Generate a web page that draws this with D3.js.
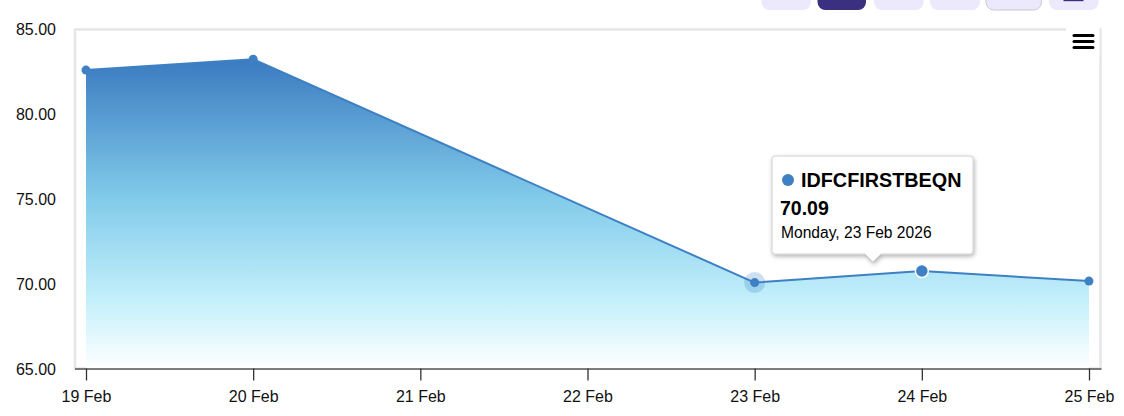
<!DOCTYPE html>
<html>
<head>
<meta charset="utf-8">
<script src="https://cdn.jsdelivr.net/npm/d3@7"></script>
<style>
  html, body { margin: 0; padding: 0; background: #fff; }
  svg { display: block; font-family: Arial, "Liberation Sans", sans-serif; }
</style>
</head>
<body>
<svg id="chart" width="1124" height="416"></svg>
<script>
// ---- data ----
const dates = ["2026-02-19", "2026-02-20", "2026-02-23", "2026-02-24", "2026-02-25"];
const prices = [82.61, 83.25, 70.09, 70.77, 70.18];
const seriesName = "IDFCFIRSTBEQN";
const yTicks = [65, 70, 75, 80, 85];
const xTickDates = ["2026-02-19", "2026-02-20", "2026-02-21", "2026-02-22", "2026-02-23", "2026-02-24", "2026-02-25"];
const tooltipIndex = 2;
const tooltipDateLabel = "Monday, 23 Feb 2026";
const hoverIndex = 3;
const rangeButtons = [
  {x0: 761.5, x1: 811, active: false, bordered: false},
  {x0: 817.5, x1: 866, active: true, bordered: false},
  {x0: 874, x1: 923.5, active: false, bordered: false},
  {x0: 930, x1: 980, active: false, bordered: false},
  {x0: 986, x1: 1041.5, active: false, bordered: true},
  {x0: 1049, x1: 1098.5, active: false, bordered: false, icon: true}
];

const parse = d3.utcParse("%Y-%m-%d");
const data = dates.map((d, i) => ({date: parse(d), value: prices[i]}));

const svg = d3.select("#chart");
const color = "#3d80c3";

const plot = {left: 75, top: 29.5, right: 1100.5, bottom: 368.5};

const x = d3.scaleUtc()
  .domain([parse(xTickDates[0]), parse(xTickDates[xTickDates.length - 1])])
  .range([86, 1089]);
const y = d3.scaleLinear().domain([65, 85]).range([369, 29.5]);

// range buttons at top
rangeButtons.forEach(b => {
  svg.append("rect")
    .attr("x", b.x0).attr("y", -12).attr("width", b.x1 - b.x0).attr("height", 22)
    .attr("rx", 8)
    .attr("fill", b.active ? "#3b2f80" : "#ece9fd")
    .attr("stroke", b.bordered ? "#c9c9cf" : "none")
    .attr("stroke-width", 1);
  if (b.icon) {
    svg.append("rect").attr("x", 1063.5).attr("y", -2).attr("width", 20).attr("height", 3.2)
      .attr("fill", "#3b2f80");
  }
});

// plot border
svg.append("rect")
  .attr("x", plot.left).attr("y", plot.top)
  .attr("width", plot.right - plot.left).attr("height", plot.bottom - plot.top)
  .attr("fill", "#fff").attr("stroke", "#e6e6e6").attr("stroke-width", 2.5);

// gradient
const defs = svg.append("defs");
const grad = defs.append("linearGradient").attr("id", "areaGrad")
  .attr("gradientUnits", "userSpaceOnUse")
  .attr("x1", 0).attr("x2", 0).attr("y1", y(83.25)).attr("y2", y(65));
[[0, "#3a7bc0"], [0.45, "#82cbea"], [0.78, "#c4f0fb"], [1, "#ffffff"]].forEach(s => {
  grad.append("stop").attr("offset", s[0]).attr("stop-color", s[1]);
});

const area = d3.area().x(d => x(d.date)).y0(y(65)).y1(d => y(d.value));
const line = d3.line().x(d => x(d.date)).y(d => y(d.value));

svg.append("path").datum(data).attr("d", area).attr("fill", "url(#areaGrad)");
svg.append("path").datum(data).attr("d", line)
  .attr("fill", "none").attr("stroke", color).attr("stroke-width", 2)
  .attr("stroke-linejoin", "round");

// halo
svg.append("circle")
  .attr("cx", x(data[tooltipIndex].date)).attr("cy", y(data[tooltipIndex].value))
  .attr("r", 10.5).attr("fill", color).attr("fill-opacity", 0.25);

// markers
svg.selectAll("circle.pt").data(data).enter().append("circle")
  .attr("class", "pt")
  .attr("cx", d => x(d.date)).attr("cy", d => y(d.value))
  .attr("r", (d, i) => i === hoverIndex ? 6.5 : 4.5)
  .attr("fill", color)
  .attr("stroke", (d, i) => i === hoverIndex ? "#fff" : "none")
  .attr("stroke-width", 1.5);

// y axis labels
svg.append("g").selectAll("text").data(yTicks).enter().append("text")
  .attr("x", 56).attr("y", d => y(d)).attr("dy", "0.35em")
  .attr("text-anchor", "end").attr("font-size", 16).attr("fill", "#111")
  .text(d3.format(".2f"));

// x axis
const xAxis = d3.axisBottom(x)
  .tickValues(xTickDates.map(parse))
  .tickFormat(d3.utcFormat("%-d %b"))
  .tickSize(12).tickPadding(10);
const gx = svg.append("g").attr("transform", `translate(0,${plot.bottom})`).call(xAxis);
gx.select(".domain").attr("d", `M${plot.left},0.5H${plot.right + 1}`)
  .attr("stroke", "#555").attr("stroke-width", 1.5);
gx.selectAll(".tick line").attr("stroke", "#333").attr("stroke-width", 1.3);
gx.selectAll(".tick text").attr("font-size", 16).attr("fill", "#111")
  .attr("font-family", "Arial, 'Liberation Sans', sans-serif");

// menu icon
svg.append("rect").attr("x", 1066).attr("y", 27).attr("width", 33.5).attr("height", 30).attr("fill", "#fff");
[35.5, 41.5, 47.5].forEach(yy => {
  svg.append("line").attr("x1", 1074).attr("x2", 1093).attr("y1", yy).attr("y2", yy)
    .attr("stroke", "#000").attr("stroke-width", 3).attr("stroke-linecap", "round");
});

// tooltip
const tipX = 772, tipY = 156, tipW = 201, tipH = 98;
const pointerX = 873;
const filt = defs.append("filter").attr("id", "shadow").attr("x", "-20%").attr("y", "-20%").attr("width", "140%").attr("height", "150%");
filt.append("feDropShadow").attr("dx", 1).attr("dy", 2).attr("stdDeviation", 2)
  .attr("flood-color", "#000").attr("flood-opacity", 0.3);
const tipPath = `M${tipX + 3},${tipY} H${tipX + tipW - 3} Q${tipX + tipW},${tipY} ${tipX + tipW},${tipY + 3}
  V${tipY + tipH - 3} Q${tipX + tipW},${tipY + tipH} ${tipX + tipW - 3},${tipY + tipH}
  H${pointerX + 8} L${pointerX},${tipY + tipH + 8} L${pointerX - 8},${tipY + tipH}
  H${tipX + 3} Q${tipX},${tipY + tipH} ${tipX},${tipY + tipH - 3} V${tipY + 3} Q${tipX},${tipY} ${tipX + 3},${tipY} Z`;
svg.append("path").attr("d", tipPath).attr("fill", "#fff")
  .attr("stroke", "#d0d0d0").attr("stroke-width", 1).attr("filter", "url(#shadow)");
svg.append("circle").attr("cx", 788).attr("cy", 180).attr("r", 6).attr("fill", color);
svg.append("text").attr("x", 801).attr("y", 187).attr("font-size", 19.8).attr("font-weight", "bold")
  .attr("fill", "#000").text(seriesName);
svg.append("text").attr("x", 780).attr("y", 215).attr("font-size", 19.5).attr("font-weight", "bold")
  .attr("fill", "#000").text(d3.format(".2f")(data[tooltipIndex].value));
svg.append("text").attr("x", 781).attr("y", 238).attr("font-size", 15.6)
  .attr("fill", "#000").text(tooltipDateLabel);
</script>
</body>
</html>
